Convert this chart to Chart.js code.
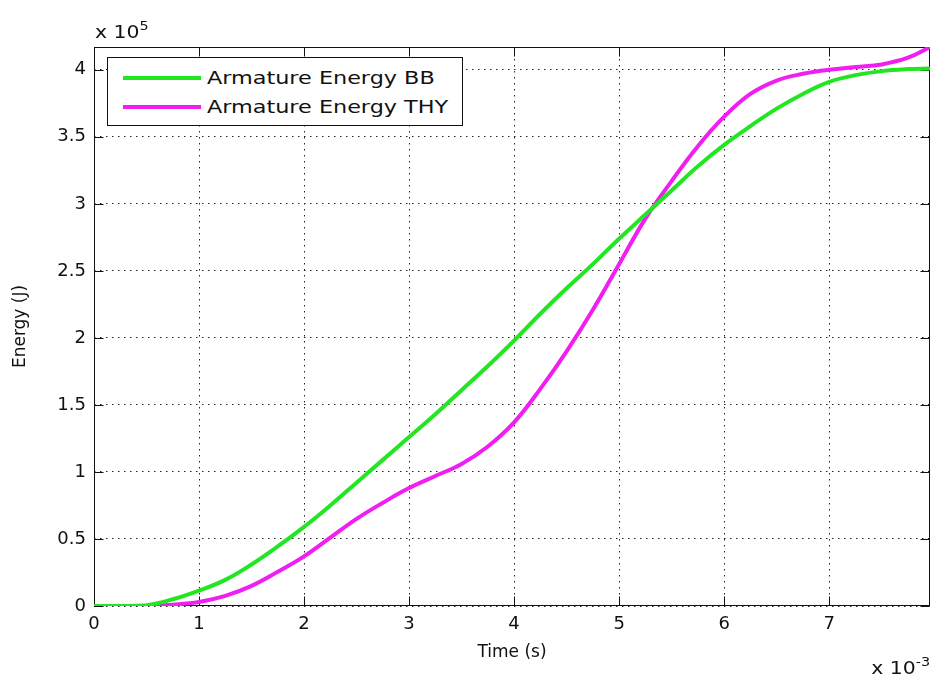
<!DOCTYPE html>
<html>
<head>
<meta charset="utf-8">
<title>Armature Energy</title>
<script src="https://cdn.jsdelivr.net/npm/chart.js@4.4.1/dist/chart.umd.min.js"></script>
<style>
  body { margin: 0; background: #fff; }
  #wrap { position: relative; width: 933px; height: 675px; font-family: 'DejaVu Sans', sans-serif; color: #111; }
  canvas { position: absolute; left: 0; top: 0; }
  .note { position: absolute; font-size: 17px; white-space: nowrap; line-height: 20px; }
  .note sup { font-size: 12px; vertical-align: 8px; }
  #expY { left: 95px; top: 16px; transform: scaleX(1.2); transform-origin: left top; }
  #expX { right: 3px; top: 652px; transform: scaleX(1.2); transform-origin: right top; }
  #legend { position: absolute; left: 107px; top: 57px; width: 354px; height: 67px; border: 1px solid #111; background: #fff; }
  .row { position: absolute; left: 0; width: 100%; height: 28px; }
  .swatch { position: absolute; left: 15px; top: 12px; width: 78px; height: 4px; }
  .lbl { position: absolute; left: 99px; top: 3px; font-size: 18px; line-height: 22px; white-space: nowrap; transform: scaleX(1.24); transform-origin: left center; }
</style>
</head>
<body>
<div id="wrap">
  <canvas id="chart" width="933" height="675"></canvas>
  <div class="note" id="expY">x 10<sup>5</sup></div>
  <div class="note" id="expX">x 10<sup>-3</sup></div>
  <div id="legend"></div>
</div>
<script>
// time in units of 1e-3 s, energy in units of 1e5 J
const timeMs = [0, 0.25, 0.5, 0.75, 1.0, 1.25, 1.5, 1.75, 2.0, 2.25, 2.5, 2.75, 3.0, 3.25, 3.5, 3.75,
  4.0, 4.25, 4.5, 4.75, 5.0, 5.25, 5.5, 5.75, 6.0, 6.25, 6.5, 6.75, 7.0, 7.25, 7.5, 7.75, 7.96];
const energyBB = [0, 0, 0.005, 0.05, 0.115, 0.195, 0.31, 0.445, 0.59, 0.75, 0.92, 1.09, 1.26, 1.43, 1.61, 1.79,
  1.98, 2.18, 2.37, 2.55, 2.74, 2.92, 3.10, 3.28, 3.44, 3.58, 3.71, 3.82, 3.91, 3.96, 3.99, 4.005, 4.01];
const energyTHY = [0, 0, 0, 0.01, 0.03, 0.075, 0.15, 0.255, 0.37, 0.51, 0.65, 0.77, 0.88, 0.97, 1.06, 1.19,
  1.37, 1.62, 1.90, 2.21, 2.55, 2.89, 3.17, 3.43, 3.65, 3.82, 3.92, 3.97, 4.00, 4.02, 4.04, 4.09, 4.17];
const seriesLabels = ['Armature Energy BB', 'Armature Energy THY'];
const seriesColors = ['#22e622', '#f01ef0'];
const xRange = [0, 7.96];
const yRange = [0, 4.17];

const FONT = "'DejaVu Sans', sans-serif";

function points(ys) {
  return timeMs.map((t, i) => ({ x: t, y: ys[i] }));
}

// axes box + inward tick marks, matlab style
const framePlugin = {
  id: 'frame',
  beforeDatasetsDraw(chart) {
    const { ctx, chartArea: a, scales: { x, y } } = chart;
    const L = Math.round(a.left) + 0.5, R = Math.round(a.right) - 0.5;
    const T = Math.round(a.top) + 0.5, B = Math.round(a.bottom) - 0.5;
    const len = 9;
    ctx.save();
    ctx.strokeStyle = '#111';
    ctx.lineWidth = 1;
    ctx.strokeRect(L, T, R - L, B - T);
    ctx.beginPath();
    x.ticks.forEach(t => {
      const px = Math.round(x.getPixelForValue(t.value)) + 0.5;
      ctx.moveTo(px, B); ctx.lineTo(px, B - len);
      ctx.moveTo(px, T); ctx.lineTo(px, T + len);
    });
    y.ticks.forEach(t => {
      const py = Math.round(y.getPixelForValue(t.value)) + 0.5;
      ctx.moveTo(L, py); ctx.lineTo(L + len, py);
      ctx.moveTo(R, py); ctx.lineTo(R - len, py);
    });
    ctx.stroke();
    ctx.restore();
  }
};

const gridOpts = { color: '#222', lineWidth: 1, drawTicks: false };
const borderOpts = { display: false, dash: [1.5, 4.5] };

new Chart(document.getElementById('chart'), {
  type: 'line',
  data: {
    datasets: [
      { label: seriesLabels[0], data: points(energyBB), borderColor: seriesColors[0] },
      { label: seriesLabels[1], data: points(energyTHY), borderColor: seriesColors[1] },
    ],
  },
  options: {
    responsive: false,
    animation: false,
    layout: { padding: { top: 47, right: 3, left: 0, bottom: 0 } },
    elements: {
      line: { borderWidth: 4, tension: 0.4, fill: false },
      point: { radius: 0, hoverRadius: 0 },
    },
    plugins: { legend: { display: false }, tooltip: { enabled: false } },
    scales: {
      x: {
        type: 'linear',
        min: xRange[0], max: xRange[1],
        afterFit(s) { s.height = 69; },
        ticks: { stepSize: 1, includeBounds: false, color: '#111', padding: 8, font: { family: FONT, size: 18 }, maxRotation: 0, callback: v => String(v) },
        grid: gridOpts,
        border: borderOpts,
        title: { display: true, text: 'Time (s)', color: '#111', font: { family: FONT, size: 17 }, padding: { top: 0, bottom: 12 } },
      },
      y: {
        type: 'linear',
        min: yRange[0], max: yRange[1],
        afterFit(s) { s.width = 94; },
        ticks: { stepSize: 0.5, includeBounds: false, color: '#111', padding: 8, font: { family: FONT, size: 18 }, callback: v => String(v) },
        grid: gridOpts,
        border: borderOpts,
        title: { display: true, text: 'Energy (J)', color: '#111', font: { family: FONT, size: 17 }, padding: { top: 10, bottom: 0 } },
      },
    },
  },
  plugins: [framePlugin],
});

// legend box inside the axes
const legend = document.getElementById('legend');
seriesLabels.forEach((name, i) => {
  const row = document.createElement('div');
  row.className = 'row';
  row.style.top = (6 + i * 29) + 'px';
  row.innerHTML = '<div class="swatch" style="background:' + seriesColors[i] + '"></div><div class="lbl">' + name + '</div>';
  legend.appendChild(row);
});
</script>
</body>
</html>
